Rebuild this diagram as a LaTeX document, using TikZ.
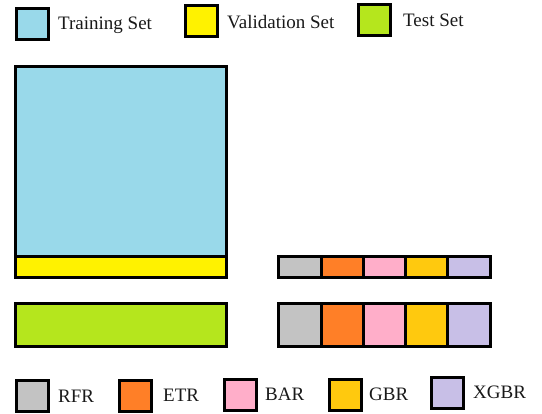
\documentclass[tikz,border=0pt]{standalone}
\usepackage{fontspec}
\setmainfont{Liberation Serif}
\definecolor{cblue}{RGB}{153,217,234}
\definecolor{cyellow}{RGB}{255,242,0}
\definecolor{cgreen}{RGB}{181,230,29}
\definecolor{cgray}{RGB}{195,195,195}
\definecolor{corange}{RGB}{255,127,39}
\definecolor{cpink}{RGB}{255,174,201}
\definecolor{cgold}{RGB}{255,201,14}
\definecolor{clav}{RGB}{200,191,231}
\begin{document}
\begin{tikzpicture}[x=1pt,y=-1pt,
  box/.style={draw=black,line width=3pt,rectangle,inner sep=0pt,outer sep=0pt},
  legsq/.style={box,minimum width=32pt,minimum height=31pt},
  lab/.style={anchor=base west,inner sep=0pt,font=\fontsize{19}{22}\selectfont,text=black!90},
  cellsm/.style={box,minimum width=42.28pt,minimum height=21pt,anchor=north west},
  cellbg/.style={box,minimum width=42.28pt,minimum height=43pt,anchor=north west}]
\useasboundingbox (0,0) rectangle (542,414);
% top legend
\node[legsq,fill=cblue] (ltrain) at (32.5,23.7) {};
\node[lab] (ttrain) at (58,29.3) {Training Set};
\node[legsq,fill=cyellow] (lval) at (201.5,21.2) {};
\node[lab] (tval) at (227,28.3) {Validation Set};
\node[legsq,fill=cgreen] (ltest) at (374,20) {};
\node[lab] (ttest) at (403,26.5) {Test Set};
% main boxes
\node[box,fill=cblue,minimum width=211pt,minimum height=190.5pt,anchor=north west] (train) at (15.5,66.5) {};
\node[box,fill=cyellow,minimum width=211pt,minimum height=20.5pt,anchor=north west] (val) at (15.5,257) {};
\node[box,fill=cgreen,minimum width=211pt,minimum height=43pt,anchor=north west] (test) at (15.5,303.5) {};
% small strip
\node[cellsm,fill=cgray] (s1) at (278.8,256.5) {};
\node[cellsm,fill=corange] (s2) at (s1.north east) {};
\node[cellsm,fill=cpink] (s3) at (s2.north east) {};
\node[cellsm,fill=cgold] (s4) at (s3.north east) {};
\node[cellsm,fill=clav] (s5) at (s4.north east) {};
% big strip
\node[cellbg,fill=cgray] (b1) at (278.8,303.5) {};
\node[cellbg,fill=corange] (b2) at (b1.north east) {};
\node[cellbg,fill=cpink] (b3) at (b2.north east) {};
\node[cellbg,fill=cgold] (b4) at (b3.north east) {};
\node[cellbg,fill=clav] (b5) at (b4.north east) {};
% bottom legend
\node[legsq,fill=cgray] (lrfr) at (32.5,396.3) {};
\node[lab] (trfr) at (58,402.5) {RFR};
\node[legsq,fill=corange] (letr) at (135.5,396) {};
\node[lab] (tetr) at (163,401.7) {ETR};
\node[legsq,fill=cpink] (lbar) at (240,395.5) {};
\node[lab] (tbar) at (265,401) {BAR};
\node[legsq,fill=cgold] (lgbr) at (345,395.3) {};
\node[lab] (tgbr) at (369,400.3) {GBR};
\node[legsq,fill=clav] (lxgbr) at (447,393.5) {};
\node[lab] (txgbr) at (473,398.5) {XGBR};
\end{tikzpicture}
\end{document}
